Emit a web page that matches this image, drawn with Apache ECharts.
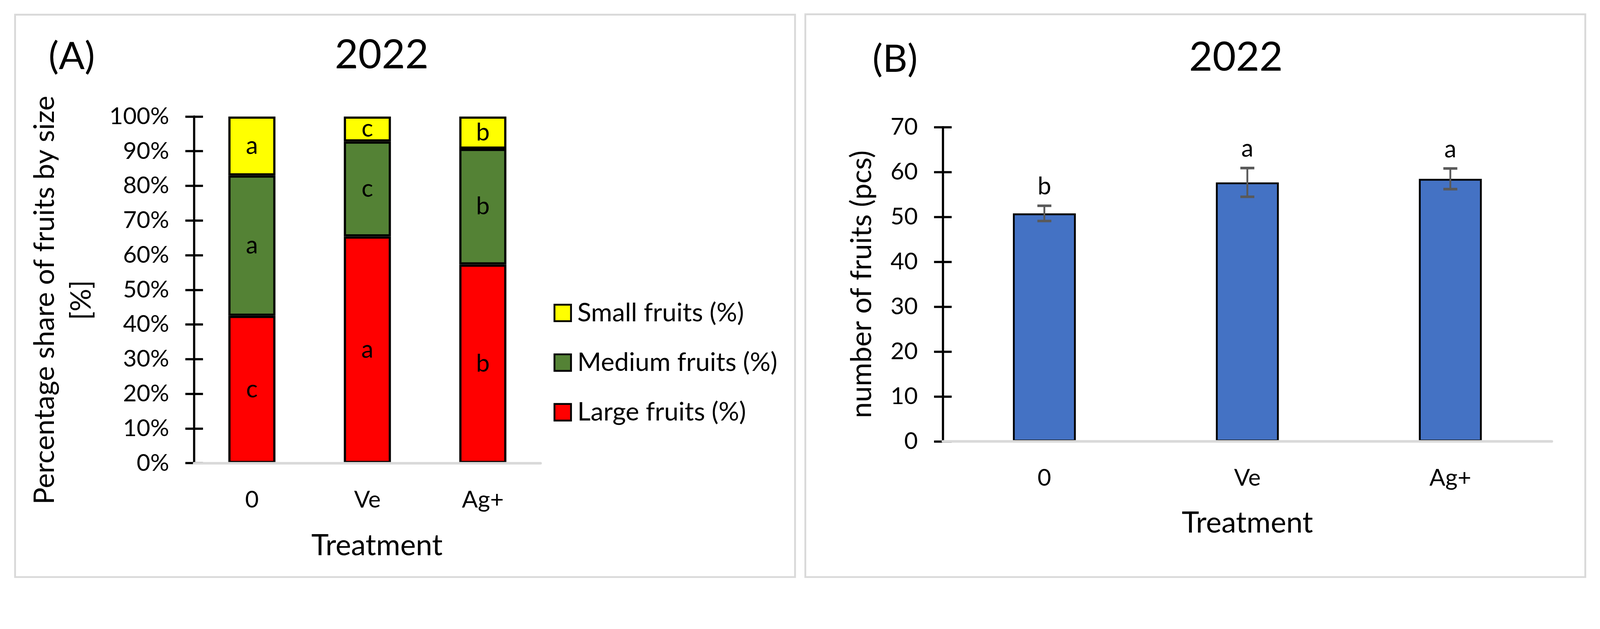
<!DOCTYPE html>
<html>
<head>
<meta charset="utf-8">
<script src="https://cdn.jsdelivr.net/npm/echarts@6/dist/echarts.min.js"></script>
<style>
html,body{margin:0;padding:0;background:#fff;overflow:hidden;}
#chart{width:100vw;}
</style>
</head>
<body>
<div id="chart"></div>
<script>
// ---- data ----
var treatments = ['0', 'Ve', 'Ag+'];
var largePct = [42.5, 65.4, 57.3];
var mediumPct = [40.5, 27.4, 33.4];
var smallPct = [17.0, 7.2, 9.3];
var largeLetters = ['c', 'a', 'b'];
var mediumLetters = ['a', 'c', 'b'];
var smallLetters = ['a', 'c', 'b'];
var countMean = [50.8, 57.7, 58.5];
var countErr = [1.7, 3.2, 2.3];
var countLetters = ['b', 'a', 'a'];
var seriesNames = ['Small fruits (%)', 'Medium fruits (%)', 'Large fruits (%)'];
var panelTitles = ['(A)', '(B)'];
var yearTitle = '2022';

var FONT = 'Lato';
var dom = document.getElementById('chart');
var W = window.innerWidth || 4351;
var k = W / 4351;
dom.style.width = W + 'px';
dom.style.height = Math.round(1611 * k) + 'px';
function X(v) { return v * k; }
function Y(v) { return v * k; }
function F(v) { return v * k; }

var chart = echarts.init(dom, null, {renderer: 'canvas'});

function letterLabel(arr) {
  return {
    show: true, position: 'inside', color: '#000', fontFamily: FONT, fontSize: F(66),
    formatter: function (p) { return arr[p.dataIndex]; }
  };
}

function yAxisPair(grid, max, fmt, name, nameGap, namePad, lineH, nameSize) {
  var outer = {
    type: 'value', gridIndex: grid, min: 0, max: max, interval: 10, position: 'left',
    axisLine: {show: true, lineStyle: {color: '#000', width: F(6)}},
    axisTick: {show: true, length: X(24), lineStyle: {color: '#000', width: F(6)}},
    axisLabel: {show: true, formatter: fmt, fontFamily: FONT, fontSize: F(64), color: '#000', margin: X(68)},
    splitLine: {show: false},
    name: name, nameLocation: 'middle', nameGap: X(nameGap),
    nameTextStyle: {fontFamily: FONT, fontSize: F(nameSize), color: '#000', lineHeight: F(lineH), padding: namePad.map(F)}
  };
  var inner = {
    type: 'value', gridIndex: grid, min: 0, max: max, interval: 10, position: 'left',
    axisLine: {show: false},
    axisTick: {show: true, inside: true, length: X(24), lineStyle: {color: '#000', width: F(6)}},
    axisLabel: {show: false}, splitLine: {show: false}
  };
  return [outer, inner];
}

var yA = yAxisPair(0, 100, '{value}%', 'Percentage share of fruits by size\n[%]', 256, [0, 56, 0, 0], 100, 77);
var yB = yAxisPair(1, 70, '{value}', 'number of fruits (pcs)', 180, [0, 0, 0, 0], 80, 78);

function catAxis(grid, namePad, nameGap) {
  return {
    type: 'category', gridIndex: grid, data: treatments, z: 5,
    axisLine: {show: true, lineStyle: {color: '#D9D9D9', width: F(7)}},
    axisTick: {show: false},
    axisLabel: {fontFamily: FONT, fontSize: F(64), color: '#000', margin: Y(68)},
    name: 'Treatment', nameLocation: 'middle', nameGap: Y(nameGap),
    nameTextStyle: {fontFamily: FONT, fontSize: F(80), color: '#000', padding: namePad.map(F)}
  };
}

function txt(x, y, s, size) {
  return {type: 'text', x: X(x), y: Y(y),
    style: {text: s, font: F(size) + 'px ' + FONT, fill: '#000', align: 'center', verticalAlign: 'middle'}};
}

var option = {
  animation: false,
  backgroundColor: '#fff',
  graphic: [
    {type: 'rect', shape: {x: X(41), y: Y(40), width: X(2121), height: Y(1530)}, style: {fill: 'none', stroke: '#D9D9D9', lineWidth: F(5)}, z: -1},
    {type: 'rect', shape: {x: X(2190), y: Y(39), width: X(2121), height: Y(1531)}, style: {fill: 'none', stroke: '#D9D9D9', lineWidth: F(5)}, z: -1},
    txt(195, 155, panelTitles[0], 104),
    txt(1038, 150, yearTitle, 110),
    txt(2434, 162, panelTitles[1], 104),
    txt(3361, 157, yearTitle, 110)
  ],
  legend: {
    orient: 'vertical', left: X(1500), top: Y(811),
    data: seriesNames,
    itemWidth: F(45), itemHeight: F(45), itemGap: Y(65),
    icon: 'rect',
    itemStyle: {borderColor: '#000', borderWidth: F(5)},
    textStyle: {fontFamily: FONT, fontSize: F(70), lineHeight: F(70), color: '#000', padding: [0, 0, 0, F(12)]}
  },
  grid: [
    {left: X(528), top: Y(317), width: X(942), height: Y(943)},
    {left: X(2564), top: Y(346), width: X(1656), height: Y(855)}
  ],
  xAxis: [catAxis(0, [0, 0, 0, 52], 185), catAxis(1, [0, 0, 0, 0], 182)],
  yAxis: [yA[0], yA[1], yB[0], yB[1]],
  series: [
    {name: seriesNames[2], type: 'bar', stack: 'size', xAxisIndex: 0, yAxisIndex: 0, data: largePct, barWidth: '40.8%',
      itemStyle: {color: '#FF0000', borderColor: '#000', borderWidth: F(6)}, label: letterLabel(largeLetters)},
    {name: seriesNames[1], type: 'bar', stack: 'size', xAxisIndex: 0, yAxisIndex: 0, data: mediumPct, barWidth: '40.8%',
      itemStyle: {color: '#548235', borderColor: '#000', borderWidth: F(6)}, label: letterLabel(mediumLetters)},
    {name: seriesNames[0], type: 'bar', stack: 'size', xAxisIndex: 0, yAxisIndex: 0, data: smallPct, barWidth: '40.8%',
      itemStyle: {color: '#FFFF00', borderColor: '#000', borderWidth: F(6)}, label: letterLabel(smallLetters)},
    {name: 'number of fruits', type: 'bar', xAxisIndex: 1, yAxisIndex: 2, data: countMean, barWidth: '31%',
      itemStyle: {color: '#4472C4', borderColor: '#000', borderWidth: F(5)}},
    {name: 'error', type: 'custom', xAxisIndex: 1, yAxisIndex: 2, z: 5,
      data: countMean.map(function (m, i) { return [i, m, countErr[i]]; }),
      encode: {x: 0, y: 1},
      renderItem: function (params, api) {
        var i = api.value(0), m = api.value(1), e = api.value(2);
        var top = api.coord([i, m + e]);
        var bot = api.coord([i, m - e]);
        var cap = X(19);
        return {
          type: 'group',
          children: [
            {type: 'line', shape: {x1: top[0], y1: top[1], x2: bot[0], y2: bot[1]}, style: {stroke: '#595959', lineWidth: F(5)}},
            {type: 'line', shape: {x1: top[0] - cap, y1: top[1], x2: top[0] + cap, y2: top[1]}, style: {stroke: '#595959', lineWidth: F(7)}},
            {type: 'line', shape: {x1: bot[0] - cap, y1: bot[1], x2: bot[0] + cap, y2: bot[1]}, style: {stroke: '#595959', lineWidth: F(7)}},
            {type: 'text', x: top[0], y: top[1] - Y(52),
              style: {text: countLetters[params.dataIndex], font: F(66) + 'px ' + FONT, fill: '#000', align: 'center', verticalAlign: 'middle'}}
          ]
        };
      }
    }
  ]
};
chart.setOption(option);
</script>
</body>
</html>
